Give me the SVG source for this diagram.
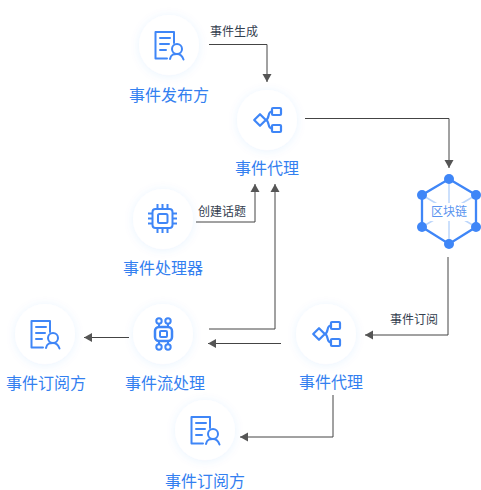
<svg xmlns="http://www.w3.org/2000/svg" width="481" height="490" viewBox="0 0 481 490">
<defs>
<filter id="sh" x="-50%" y="-50%" width="200%" height="200%"><feDropShadow dx="0" dy="1" stdDeviation="5" flood-color="#3f7ff0" flood-opacity="0.09"/></filter>
<marker id="arr" markerUnits="userSpaceOnUse" markerWidth="10" markerHeight="10" refX="9" refY="5" orient="auto"><path d="M1,0.500 L9,5 L1,9.500 Z" fill="#555"/></marker>
<g id="docicon" fill="none" stroke="#3f86f7" stroke-width="2" stroke-linecap="round" stroke-linejoin="round">
<path d="M5,-2 V-13 H-13.500 V13.500 H-2"/><path d="M-9,-7 H1 M-9,-1 H0 M-9,5 H-3"/><circle cx="8" cy="4" r="5"/><path d="M1,14 C2,9 5,9 8,9 C11,9 13,10 14.500,14.500"/>
</g>
<g id="share" fill="none" stroke="#3f86f7" stroke-width="2.200" stroke-linejoin="round">
<path d="M-7,-5.800 L-1.200,0 L-7,5.800 L-12.800,0 Z"/><path d="M-1.200,0 C3,-1 0,-8.500 5,-8.500 M-1.200,0 C3,1 0,8.500 5,8.500"/><rect x="5" y="-12" width="9" height="7" rx="1"/><rect x="5" y="5" width="9" height="7" rx="1"/>
</g>
</defs>
<style>
.c{fill:#fff;filter:url(#sh)}
.t{font:16px "Liberation Sans","Noto Sans CJK SC",sans-serif;fill:#3380f0;text-anchor:middle}
.l{font:12px "Liberation Sans","Noto Sans CJK SC",sans-serif;fill:#34404f}
.w{fill:none;stroke:#444;stroke-width:1;marker-end:url(#arr)}
</style>
<rect width="481" height="490" fill="#fff"/>
<g id="connectors">
<path class="w" d="M209,44.500 H267 V82"/>
<path class="w" d="M305,118.500 H449 V168"/>
<path class="w" d="M196,222 H255 V184"/>
<path class="w" d="M209,329 H275 V184"/>
<path class="w" d="M448,257 V335 H365"/>
<path class="w" d="M281,343.500 H208"/>
<path class="w" d="M129,337.500 H84"/>
<path class="w" d="M333,395 V437 H240"/>
<text class="l" x="210" y="36">事件生成</text>
<text class="l" x="198" y="216">创建话题</text>
<text class="l" x="390" y="324">事件订阅</text>
</g>
<g id="publisher"><circle class="c" cx="169" cy="45" r="30"/><use href="#docicon" x="169" y="45"/><text class="t" x="169" y="101">事件发布方</text></g>
<g id="agent1"><circle class="c" cx="267" cy="120" r="30"/><use href="#share" x="267" y="120"/><text class="t" x="267" y="174">事件代理</text></g>
<g id="processor"><circle class="c" cx="163" cy="219" r="30"/>
<g fill="none" stroke="#3f86f7" stroke-width="2"><rect x="152.500" y="209" width="20" height="19" rx="3"/><rect x="158" y="214" width="9.500" height="9" rx="1.500"/><path d="M157.500,204 V209 M162.500,204 V209 M167.500,204 V209 M157.500,228 V233 M162.500,228 V233 M167.500,228 V233 M148,213.500 H152.500 M148,218.500 H152.500 M148,223.500 H152.500 M172.500,213.500 H177 M172.500,218.500 H177 M172.500,223.500 H177"/></g>
<text class="t" x="163" y="274">事件处理器</text></g>
<g id="blockchain">
<g stroke="#bcd6fb" stroke-width="1.500"><path d="M449,179 V244 M422,195 L476,227 M476,195 L422,227"/></g>
<rect x="429" y="203" width="40" height="18" fill="#fff"/>
<path d="M449,179 L476,195 V227 L449,244 L422,227 V195 Z" fill="none" stroke="#3f86f7" stroke-width="2.300"/>
<g fill="#3f86f7"><circle cx="449" cy="179" r="5"/><circle cx="476" cy="195" r="5"/><circle cx="476" cy="227" r="5"/><circle cx="449" cy="244" r="5"/><circle cx="422" cy="227" r="5"/><circle cx="422" cy="195" r="5"/></g>
<text x="449" y="216" text-anchor="middle" style="font:12px 'Liberation Sans','Noto Sans CJK SC',sans-serif;fill:#5a93ef">区块链</text></g>
<g id="subscriber1"><circle class="c" cx="45" cy="334" r="30"/><use href="#docicon" x="45" y="334"/><text class="t" x="46" y="389">事件订阅方</text></g>
<g id="stream"><circle class="c" cx="163" cy="334" r="30"/>
<g fill="none" stroke="#3f86f7" stroke-width="2"><rect x="155" y="327" width="17" height="14" rx="4" stroke-width="2.500"/><rect x="160" y="331" width="7" height="6" rx="1"/><circle cx="159" cy="321" r="2.700"/><circle cx="168" cy="321" r="2.700"/><circle cx="159" cy="347" r="2.700"/><circle cx="168" cy="347" r="2.700"/><path d="M159,324 V327 M168,324 V327 M159,341 V344 M168,341 V344"/></g>
<text class="t" x="165" y="389">事件流处理</text></g>
<g id="agent2"><circle class="c" cx="326" cy="334" r="30"/><use href="#share" x="326" y="334"/><text class="t" x="331" y="388">事件代理</text></g>
<g id="subscriber2"><circle class="c" cx="205" cy="430" r="30"/><use href="#docicon" x="205" y="430"/><text class="t" x="205" y="486.500">事件订阅方</text></g>
</svg>
